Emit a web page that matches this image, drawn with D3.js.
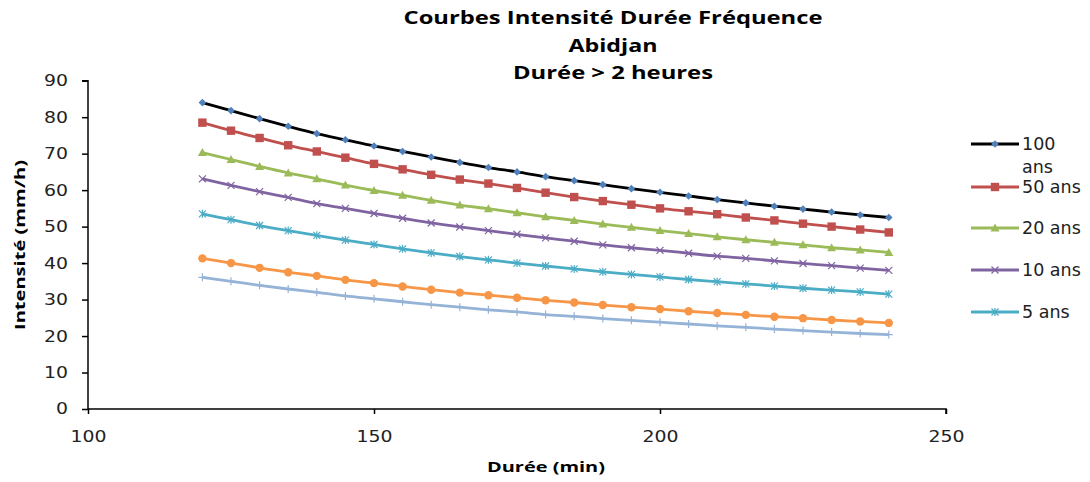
<!DOCTYPE html>
<html><head><meta charset="utf-8">
<script src="https://cdn.jsdelivr.net/npm/d3@7"></script>
<style>body{margin:0;background:#fff;}svg{display:block;}</style>
</head><body>
<svg id="c" width="1090" height="482"></svg>
<script>
const durations = [120,125,130,135,140,145,150,155,160,165,170,175,180,185,190,195,200,205,210,215,220,225,230,235,240];
const s100 = [84.0,81.8,79.6,77.5,75.5,73.8,72.1,70.6,69.1,67.6,66.2,65.0,63.7,62.6,61.5,60.4,59.4,58.4,57.4,56.5,55.6,54.8,54.0,53.2,52.5];
const s50  = [78.5,76.3,74.3,72.3,70.6,68.9,67.2,65.7,64.2,62.9,61.8,60.6,59.3,58.1,57.0,56.0,55.0,54.2,53.4,52.5,51.7,50.8,50.0,49.2,48.4];
const s20  = [70.3,68.4,66.5,64.7,63.1,61.4,59.9,58.6,57.2,55.9,54.9,53.8,52.7,51.7,50.7,49.8,48.9,48.1,47.2,46.4,45.7,45.0,44.2,43.6,42.9];
const s10  = [63.1,61.3,59.6,58.0,56.3,55.0,53.6,52.3,51.0,49.9,48.9,47.9,46.9,46.0,45.0,44.2,43.5,42.7,41.9,41.3,40.6,39.9,39.3,38.6,38.0];
const s5   = [53.5,51.9,50.3,48.9,47.6,46.3,45.1,43.9,42.8,41.8,40.9,40.0,39.2,38.4,37.6,36.9,36.2,35.5,34.9,34.3,33.7,33.1,32.6,32.1,31.5];
const s2   = [41.3,40.0,38.7,37.5,36.5,35.4,34.5,33.6,32.7,31.9,31.2,30.5,29.8,29.2,28.5,27.9,27.4,26.8,26.3,25.8,25.3,24.9,24.4,24.0,23.6];
const s1   = [36.1,35.0,33.9,32.9,32.0,31.0,30.2,29.4,28.6,27.9,27.2,26.6,25.9,25.4,24.8,24.3,23.8,23.3,22.8,22.4,21.9,21.5,21.1,20.7,20.4];
const seriesNames = ["100 ans","50 ans","20 ans","10 ans","5 ans","2 ans","1 an"];
const legendNames = ["100 ans","50 ans","20 ans","10 ans","5 ans"];
const xTicks = [100,150,200,250];
const yTicks = [0,10,20,30,40,50,60,70,80,90];
const titleLines = ["Courbes Intensité Durée Fréquence","Abidjan","Durée > 2 heures"];

const seriesValues = [s100,s50,s20,s10,s5,s2,s1];
const lineColors = ["#000000","#C0504D","#9BBB59","#8064A2","#4BACC6","#F79646","#95B3D7"];
const markerColors = ["#4F81BD","#C0504D","#9BBB59","#8064A2","#4BACC6","#F79646","#95B3D7"];
const markerTypes = ["diamond","square","triangle","x","star","circle","plus"];

const svg = d3.select("#c");
const x = d3.scaleLinear().domain([100,250]).range([88,946]);
const y = d3.scaleLinear().domain([0,90]).range([409,80.7]);
const font = "'DejaVu Sans', sans-serif";
const bfont = "'Open Sans', sans-serif";

// title
const titleW = [419,89,200];
svg.append("g").selectAll("text").data(titleLines).join("text")
  .attr("x",613).attr("y",(d,i)=>24+i*27.5)
  .attr("text-anchor","middle").attr("font-family",bfont)
  .attr("font-weight","bold").attr("font-size",18.5).attr("fill","#000")
  .attr("textLength",(d,i)=>titleW[i]).attr("lengthAdjust","spacingAndGlyphs").text(d=>d);

// axes
const xAxis = svg.append("g").attr("transform","translate(0,409)")
  .call(d3.axisBottom(x).tickValues(xTicks).tickSize(5).tickPadding(17).tickFormat(d3.format("d")));
const yAxis = svg.append("g").attr("transform","translate(88,0)")
  .call(d3.axisLeft(y).tickValues(yTicks).tickSize(6).tickPadding(14).tickFormat(d3.format("d")));
[xAxis,yAxis].forEach(a=>{
  a.select(".domain").attr("stroke","#000").attr("stroke-width",1.5);
  a.selectAll(".tick line").attr("stroke","#000").attr("stroke-width",1.5);
  a.selectAll(".tick text").attr("font-family",font).attr("font-size",15.5).attr("fill","#222")
    .attr("textLength",d=>String(d).length*12).attr("lengthAdjust","spacingAndGlyphs");
});
xAxis.select(".domain").attr("d","M88,0H946V5");
yAxis.select(".domain").attr("d","M-6,80.7H0V409");

svg.append("text").attr("x",546).attr("y",472).attr("text-anchor","middle")
  .attr("font-family",bfont).attr("font-weight","bold").attr("font-size",14.5)
  .attr("textLength",118).attr("lengthAdjust","spacingAndGlyphs").text("Durée (min)");
svg.append("text").attr("transform","translate(25,245) rotate(-90)").attr("text-anchor","middle")
  .attr("font-family",bfont).attr("font-weight","bold").attr("font-size",14.5)
  .attr("textLength",170).attr("lengthAdjust","spacingAndGlyphs").text("Intensité (mm/h)");

function marker(g,type,color,cx,cy){
  if(type==="diamond"){
    g.append("path").attr("d",`M${cx},${cy-3.8}L${cx+3.8},${cy}L${cx},${cy+3.8}L${cx-3.8},${cy}Z`).attr("fill",color);
  } else if(type==="square"){
    g.append("rect").attr("x",cx-4.2).attr("y",cy-4.2).attr("width",8.4).attr("height",8.4).attr("fill",color);
  } else if(type==="triangle"){
    g.append("path").attr("d",`M${cx},${cy-4.5}L${cx+4.5},${cy+3.5}L${cx-4.5},${cy+3.5}Z`).attr("fill",color);
  } else if(type==="x"){
    g.append("path").attr("d",`M${cx-3.5},${cy-3.5}L${cx+3.5},${cy+3.5}M${cx-3.5},${cy+3.5}L${cx+3.5},${cy-3.5}`).attr("stroke",color).attr("stroke-width",1.2).attr("fill","none");
  } else if(type==="star"){
    g.append("path").attr("d",`M${cx-3.5},${cy-3.5}L${cx+3.5},${cy+3.5}M${cx-3.5},${cy+3.5}L${cx+3.5},${cy-3.5}M${cx},${cy-4}V${cy+4}`).attr("stroke",color).attr("stroke-width",1.2).attr("fill","none");
  } else if(type==="circle"){
    g.append("circle").attr("cx",cx).attr("cy",cy).attr("r",4.2).attr("fill",color);
  } else if(type==="plus"){
    g.append("path").attr("d",`M${cx-4},${cy}H${cx+4}M${cx},${cy-4}V${cy+4}`).attr("stroke",color).attr("stroke-width",1.2).attr("fill","none");
  }
}

const line = d3.line().x((d,i)=>x(durations[i])).y(d=>y(d)).curve(d3.curveMonotoneX);
const plot = svg.append("g");
seriesValues.forEach((vals,k)=>{
  const g = plot.append("g").attr("class","series").attr("data-name",seriesNames[k]);
  g.append("path").attr("d",line(vals)).attr("fill","none").attr("stroke",lineColors[k]).attr("stroke-width",2.8);
  vals.forEach((v,i)=>marker(g,markerTypes[k],markerColors[k],x(durations[i]),y(v)));
});

// legend
const legY = [144,187,228,270,312];
const lg = svg.append("g");
legendNames.forEach((n,k)=>{
  const g = lg.append("g");
  g.append("line").attr("x1",971).attr("x2",1019).attr("y1",legY[k]).attr("y2",legY[k]).attr("stroke",lineColors[k]).attr("stroke-width",2.8);
  marker(g,markerTypes[k],markerColors[k],995,legY[k]);
  const parts = k===0 ? ["100","ans"] : [n];
  parts.forEach((p,j)=>{
    g.append("text").attr("x",1022).attr("y",legY[k]+6+j*23).attr("font-family",font).attr("font-size",17.5).attr("fill","#222").text(p);
  });
});
</script>
</body></html>
